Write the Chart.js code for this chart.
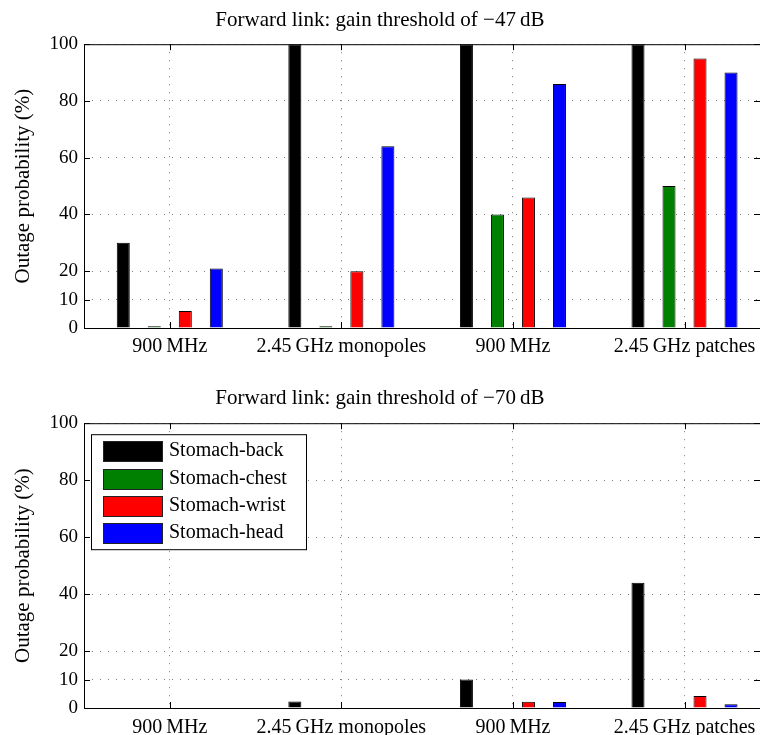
<!DOCTYPE html>
<html>
<head>
<meta charset="utf-8">
<script src="https://cdn.jsdelivr.net/npm/chart.js@4.4.0/dist/chart.umd.min.js"></script>
<style>
  body { margin: 0; background: #fff; }
  #wrap { position: relative; width: 760px; height: 735px; }
  .panel { position: absolute; left: 0; width: 760px; }
</style>
</head>
<body>
<div id="wrap">
  <div class="panel" style="top:0"><canvas id="chart47" width="760" height="370"></canvas></div>
  <div class="panel" style="top:378px"><canvas id="chart70" width="760" height="357"></canvas></div>
</div>
<script>
// --- DATA ---
const categories = ["900\u2009MHz", "2.45\u2009GHz monopoles", "900\u2009MHz", "2.45\u2009GHz patches"];
const seriesNames = ["Stomach-back", "Stomach-chest", "Stomach-wrist", "Stomach-head"];
const seriesColors = ["#000000", "#008000", "#ff0000", "#0000ff"];
const yTicks = [0, 10, 20, 40, 60, 80, 100];

// gain threshold of -47 dB
const back47 = [30, 100, 100, 100];
const chest47 = [0.6, 0.6, 40, 50];
const wrist47 = [6, 20, 46, 95];
const head47 = [21, 64, 86, 90];

// gain threshold of -70 dB
const back70 = [0, 2.3, 10, 44];
const chest70 = [0, 0, 0, 0];
const wrist70 = [0, 0, 2.2, 4.2];
const head70 = [0, 0, 2.1, 1.3];

const FONT = "'Liberation Serif', 'DejaVu Serif', serif";

// --- PLUGINS ---
const frameBox = {
    id: "frameBox",
    afterDraw(chart) {
        const { ctx, chartArea: a, scales } = chart;
        ctx.save();
        ctx.strokeStyle = "#000";
        ctx.lineWidth = 1;
        ctx.strokeRect(a.left + 0.5, a.top + 0.5, a.right - a.left, a.bottom - a.top);
        ctx.beginPath();
        scales.x.ticks.forEach(t => {
            const px = Math.round(scales.x.getPixelForValue(t.value)) + 0.5;
            ctx.moveTo(px, a.bottom); ctx.lineTo(px, a.bottom - 6);
            ctx.moveTo(px, a.top); ctx.lineTo(px, a.top + 6);
        });
        scales.y.ticks.forEach(t => {
            const py = Math.round(scales.y.getPixelForValue(t.value)) + 0.5;
            ctx.moveTo(a.left, py); ctx.lineTo(a.left + 6, py);
            ctx.moveTo(a.right, py); ctx.lineTo(a.right - 6, py);
        });
        ctx.stroke();
        ctx.restore();
    }
};

const insideLegend = {
    id: "insideLegend",
    afterDraw(chart, args, opts) {
        if (!opts.display) return;
        const { ctx, chartArea } = chart;
        const x = chartArea.left + 7, y = chartArea.top + 11;
        ctx.save();
        ctx.fillStyle = "#fff";
        ctx.fillRect(x, y, 215, 115);
        ctx.strokeStyle = "#000";
        ctx.lineWidth = 1;
        ctx.strokeRect(x + 0.5, y + 0.5, 215, 115);
        ctx.font = "20px " + FONT;
        ctx.textBaseline = "middle";
        chart.data.datasets.forEach((ds, i) => {
            const ry = Math.round(y + 7 + i * 27.3);
            ctx.fillStyle = ds.backgroundColor;
            ctx.fillRect(x + 12, ry, 59, 20);
            ctx.strokeStyle = "#222";
            ctx.strokeRect(x + 12.5, ry + 0.5, 59, 20);
            ctx.fillStyle = "#000";
            ctx.fillText(ds.label, x + 78, ry + 10);
        });
        ctx.restore();
    }
};

// --- HELPERS ---
function makeDatasets(seriesList) {
    return seriesList.map((values, i) => ({
        label: seriesNames[i],
        data: values.map((v, k) => ({ x: k + 1, y: v })),
        backgroundColor: seriesColors[i],
        borderColor: "#000",
        borderWidth: 1,
        categoryPercentage: 0.723,
        barPercentage: 0.42
    }));
}

function makeChart(canvasId, title, seriesList, showLegend, titlePad, xHeight, xPad) {
    const dotted = { color: "#777", lineWidth: 1, drawTicks: false, offset: false };
    const dottedBorder = { display: false, dash: [1, 7] };
    return new Chart(document.getElementById(canvasId), {
        type: "bar",
        data: { datasets: makeDatasets(seriesList) },
        plugins: [frameBox, insideLegend],
        options: {
            responsive: false,
            animation: false,
            layout: { padding: { left: 0, right: 0, top: 0, bottom: 0 } },
            scales: {
                x: {
                    type: "linear",
                    offset: false,
                    min: 0.5,
                    max: 4.44,
                    grid: dotted,
                    border: dottedBorder,
                    afterBuildTicks: scale => { scale.ticks = [1, 2, 3, 4].map(v => ({ value: v })); },
                    afterFit: scale => {
                        scale.height = xHeight;
                        scale.paddingLeft = 0;
                        scale.paddingRight = 0;
                    },
                    ticks: {
                        padding: xPad,
                        color: "#000",
                        maxRotation: 0,
                        autoSkip: false,
                        font: { family: FONT, size: 20 },
                        callback: v => categories[v - 1]
                    }
                },
                y: {
                    min: 0,
                    max: 100,
                    grid: dotted,
                    border: dottedBorder,
                    afterBuildTicks: scale => { scale.ticks = yTicks.map(v => ({ value: v })); },
                    afterFit: scale => {
                        scale.width = 84;
                        scale.paddingTop = 0;
                        scale.paddingBottom = 0;
                    },
                    ticks: { padding: 6, color: "#000", font: { family: FONT, size: 19 } },
                    title: {
                        display: true,
                        text: "Outage probability (%)",
                        color: "#000",
                        padding: { top: 11, bottom: 0 },
                        font: { family: FONT, size: 21 }
                    }
                }
            },
            plugins: {
                legend: { display: false },
                tooltip: { enabled: false },
                insideLegend: { display: showLegend },
                title: {
                    display: true,
                    text: title,
                    color: "#000",
                    padding: titlePad,
                    font: { family: FONT, size: 21, weight: "normal" }
                }
            }
        }
    });
}

// --- BUILD ---
makeChart("chart47", "Forward link: gain threshold of \u221247\u2009dB",
    [back47, chest47, wrist47, head47], false, { top: 8, bottom: 11 }, 42, 7);
makeChart("chart70", "Forward link: gain threshold of \u221270\u2009dB",
    [back70, chest70, wrist70, head70], true, { top: 8, bottom: 12 }, 27, 8);
</script>
</body>
</html>
